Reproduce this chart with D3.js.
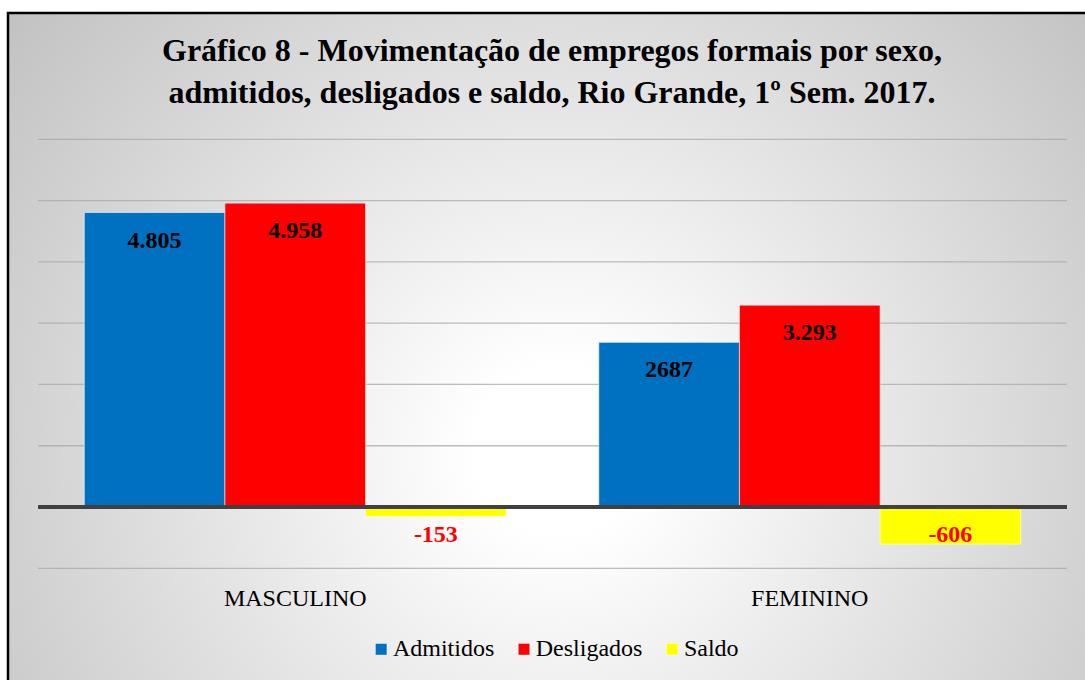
<!DOCTYPE html>
<html>
<head>
<meta charset="utf-8">
<script src="https://cdn.jsdelivr.net/npm/d3@7"></script>
<style>
  html, body { margin: 0; padding: 0; background: #ffffff; }
  svg { display: block; }
</style>
</head>
<body>
<svg id="chart" width="1085" height="680"></svg>
<script>
// ---- data ----
const categories = ["MASCULINO", "FEMININO"];
const seriesNames = ["Admitidos", "Desligados", "Saldo"];
const admitidos = [4805, 2687];
const desligados = [4958, 3293];
const saldo = [-153, -606];
const labelAdmitidos = ["4.805", "2687"];
const labelDesligados = ["4.958", "3.293"];
const labelSaldo = ["-153", "-606"];
const yTicks = [-1000, 0, 1000, 2000, 3000, 4000, 5000, 6000];
const titleLines = ["Gráfico 8 - Movimentação de empregos formais por sexo,",
                    "admitidos, desligados e saldo, Rio Grande, 1º Sem. 2017."];

const seriesColors = ["#0070C0", "#FF0000", "#FFFF00"];
const seriesValues = [admitidos, desligados, saldo];
const seriesLabels = [labelAdmitidos, labelDesligados, labelSaldo];

const svg = d3.select("#chart");
const FONT = "'Liberation Serif', 'Times New Roman', serif";

// background gradient
const defs = svg.append("defs");
const grad = defs.append("radialGradient")
  .attr("id", "bg").attr("gradientUnits", "userSpaceOnUse")
  .attr("cx", 560).attr("cy", 450).attr("r", 700);
grad.append("stop").attr("offset", 0).attr("stop-color", "#ffffff");
grad.append("stop").attr("offset", 0.12).attr("stop-color", "#ffffff");
grad.append("stop").attr("offset", 1).attr("stop-color", "#c2c2c2");

svg.append("rect").attr("x", 8).attr("y", 13).attr("width", 1100).attr("height", 700)
  .attr("fill", "url(#bg)").attr("stroke", "#000").attr("stroke-width", 2.5);

// title
svg.append("g").selectAll("text").data(titleLines).join("text")
  .attr("x", 552).attr("y", (d, i) => 61 + i * 42)
  .attr("text-anchor", "middle")
  .attr("font-family", FONT).attr("font-weight", "bold").attr("font-size", 32)
  .attr("fill", "#000").text(d => d);

// scales
const plotLeft = 38, plotRight = 1067;
const y = d3.scaleLinear().domain([-1000, 6000]).range([568.3, 139.3]);
const x0 = d3.scaleBand().domain(categories).range([plotLeft, plotRight]).padding(0);
const step = x0.bandwidth();
const x1 = d3.scaleBand().domain(seriesNames).range([step * 0.09, step * 0.91]).padding(0);

// gridlines
const grid = svg.append("g");
grid.selectAll("line").data(yTicks.filter(t => t !== 0)).join("line")
  .attr("x1", plotLeft).attr("x2", plotRight)
  .attr("y1", d => y(d)).attr("y2", d => y(d))
  .attr("stroke", "#a8a8a8").attr("stroke-opacity", 0.75).attr("stroke-width", 1.3);

// bars
const barsG = svg.append("g");
seriesNames.forEach((s, si) => {
  const vals = seriesValues[si];
  barsG.append("g").selectAll("rect").data(categories).join("rect")
    .attr("x", (c) => x0(c) + x1(s))
    .attr("width", x1.bandwidth())
    .attr("y", (c, i) => y(Math.max(0, vals[i])))
    .attr("height", (c, i) => Math.abs(y(vals[i]) - y(0)))
    .attr("fill", seriesColors[si])
    .attr("stroke", "#ffffff").attr("stroke-opacity", 0.55).attr("stroke-width", 1);
});

// zero axis
svg.append("line")
  .attr("x1", plotLeft).attr("x2", plotRight)
  .attr("y1", y(0)).attr("y2", y(0))
  .attr("stroke", "#404040").attr("stroke-width", 4);

// data labels
const labelsG = svg.append("g");
seriesNames.forEach((s, si) => {
  const vals = seriesValues[si];
  labelsG.append("g").selectAll("text").data(categories).join("text")
    .attr("x", c => x0(c) + x1(s) + x1.bandwidth() / 2)
    .attr("y", (c, i) => vals[i] >= 0 ? y(vals[i]) + 35 : y(0) + 35)
    .attr("text-anchor", "middle")
    .attr("font-family", FONT).attr("font-weight", "bold").attr("font-size", 24)
    .attr("fill", (c, i) => vals[i] >= 0 ? "#000" : "#FF0000")
    .text((c, i) => seriesLabels[si][i]);
});

// category labels
svg.append("g").selectAll("text").data(categories).join("text")
  .attr("x", c => x0(c) + step / 2).attr("y", 606)
  .attr("text-anchor", "middle")
  .attr("font-family", FONT).attr("font-size", 24).attr("fill", "#000")
  .text(d => d);

// legend
const legend = svg.append("g");
const sq = 11.5, sqGap = 6, itemGap = 24;
const items = legend.selectAll("g").data(seriesNames).join("g");
items.append("rect").attr("width", sq).attr("height", sq)
  .attr("y", 643.5).attr("fill", (d, i) => seriesColors[i])
  .attr("stroke", "#ffffff").attr("stroke-opacity", 0.5).attr("stroke-width", 0.8);
items.append("text").attr("y", 655.5)
  .attr("font-family", FONT).attr("font-size", 24).attr("fill", "#000")
  .text(d => d);
const widths = [];
items.each(function() { widths.push(d3.select(this).select("text").node().getComputedTextLength()); });
const total = d3.sum(widths) + seriesNames.length * (sq + sqGap) + (seriesNames.length - 1) * itemGap;
let cx = 557 - total / 2;
items.each(function(d, i) {
  const g = d3.select(this);
  g.select("rect").attr("x", cx);
  g.select("text").attr("x", cx + sq + sqGap);
  cx += sq + sqGap + widths[i] + itemGap;
});
</script>
</body>
</html>
